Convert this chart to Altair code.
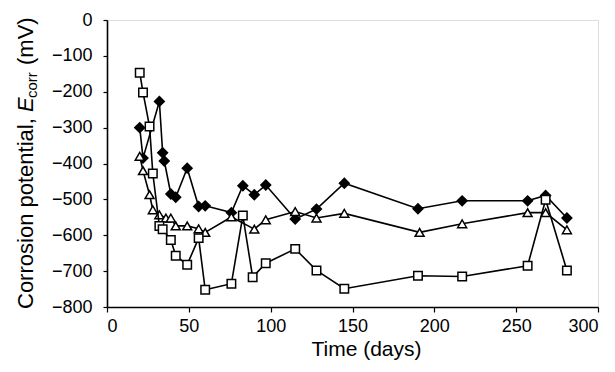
import altair as alt
import pandas as pd

# Filled diamonds
dia_day = [20, 22, 32, 34, 35, 39, 42, 49, 56, 60, 76, 83, 90, 97, 115, 128, 145, 190, 217, 257, 268, 281]
dia_val = [-300, -385, -227, -370, -393, -485, -494, -413, -520, -518, -537, -462, -487, -460, -555, -527, -455, -526, -504, -504, -489, -552]

# Open triangles
tri_day = [20, 22, 26, 28, 32, 36, 39, 42, 49, 56, 60, 76, 90, 97, 115, 128, 145, 191, 217, 257, 268, 281]
tri_val = [-380, -420, -487, -529, -543, -552, -552, -574, -574, -582, -592, -549, -583, -557, -534, -552, -539, -592, -568, -537, -537, -585]

# Open squares
sq_day = [20, 22, 26, 28, 32, 34, 39, 42, 49, 56, 60, 76, 83, 89, 97, 115, 128, 145, 190, 217, 257, 268, 281]
sq_val = [-147, -202, -297, -428, -574, -583, -613, -657, -682, -608, -752, -735, -545, -717, -678, -638, -698, -749, -713, -715, -685, -501, -698]

x_ticks = [0, 50, 100, 150, 200, 250, 300]
y_ticks = [0, -100, -200, -300, -400, -500, -600, -700, -800]

y_title_parts = ["Corrosion potential, ", "E", "corr", "(mV)"]
x_title = "Time (days)"

FONT = "Liberation Sans"

xs = alt.Scale(domain=[0, 300], nice=False)
ys = alt.Scale(domain=[-800, 0], nice=False)

x_axis = alt.Axis(
    values=x_ticks, title=x_title, titleFontSize=21, titleFont=FONT, titleFontWeight="normal",
    titleX=259, titleY=48, titleAlign="center", titleBaseline="alphabetic",
    labelFontSize=18, labelFont=FONT, tickSize=5, labelPadding=5, grid=False,
    labelOverlap=False,
    domainColor="black", domainWidth=1.6, tickColor="black", tickWidth=1.2, labelColor="black")
y_axis = alt.Axis(
    values=y_ticks, title=None,
    labelExpr="datum.value < 0 ? '\u2212' + abs(datum.value) : '' + datum.value",
    labelFontSize=18, labelFont=FONT, tickSize=4, labelPadding=11, grid=False,
    labelOverlap=False,
    domainColor="black", domainWidth=1.6, tickColor="black", tickWidth=1.2, labelColor="black")


def series(days, vals, shape, fill, size):
    df = pd.DataFrame({"day": days, "val": vals})
    base = alt.Chart(df).encode(
        x=alt.X("day:Q", scale=xs, axis=x_axis),
        y=alt.Y("val:Q", scale=ys, axis=y_axis),
    )
    line = base.mark_line(color="black", strokeWidth=1.6)
    pts = base.mark_point(shape=shape, filled=True, fill=fill, stroke="black",
                          strokeWidth=1.5, size=size, opacity=1, fillOpacity=1)
    return line + pts


d_layer = series(dia_day, dia_val, "diamond", "black", 95)
t_layer = series(tri_day, tri_val, "triangle-up", "white", 80)
s_layer = series(sq_day, sq_val, "square", "white", 72)

one = pd.DataFrame({"a": [0]})
title_specs = [
    (y_title_parts[0], 22, "normal", -74, 289),
    (y_title_parts[1], 22, "italic", -74, 92),
    (y_title_parts[2], 15, "normal", -70, 78),
    (y_title_parts[3], 22, "normal", -74, 45),
]
title_layers = []
for txt, fs, style, px, py in title_specs:
    title_layers.append(
        alt.Chart(one).mark_text(text=txt, angle=270, align="left", baseline="alphabetic",
                                 font=FONT, fontSize=fs, fontStyle=style, color="black")
        .encode(x=alt.value(px), y=alt.value(py))
    )

chart = alt.layer(d_layer, t_layer, s_layer, *title_layers).properties(
    width=491, height=287,
    padding={"left": 99, "top": 12, "right": 9, "bottom": 60},
    autosize=alt.AutoSizeParams(type="none"),
).configure_view(stroke="black", strokeWidth=1.6).configure(background="white")

chart.save("out.html", embed_options={"renderer": "svg", "actions": False})
